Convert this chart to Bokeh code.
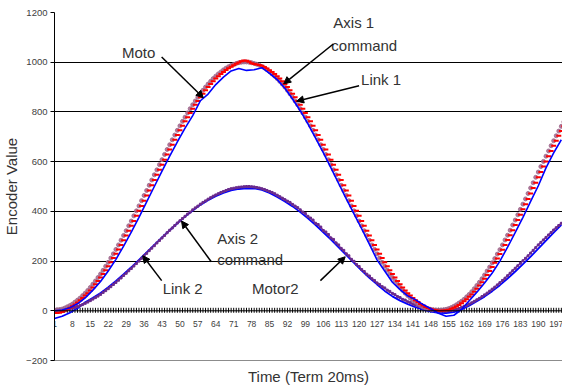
import math
from bokeh.plotting import figure
from bokeh.models import FixedTicker, Span, Label, Arrow, NormalHead, Range1d
from bokeh.embed import file_html
from bokeh.resources import INLINE
from bokeh.core.properties import value

# ---------------- data ----------------
categories = list(range(1, 201))

tick_positions = [1, 8, 15, 22, 29, 36, 43, 50, 57, 64, 71, 78, 85, 92, 99,
                  106, 113, 120, 127, 134, 141, 148, 155, 162, 169, 176, 183, 190, 197]
tick_labels = [str(t) for t in tick_positions]
y_ticks = [-200, 0, 200, 400, 600, 800, 1000, 1200]
grid_values = [200, 400, 600, 800, 1000]

axis1_command = [
    -8, -9, -8, -5, 0, 6, 12, 18, 25, 33,
    42, 51, 61, 71, 82, 94, 107, 120, 134, 148,
    163, 179, 195, 212, 229, 247, 265, 284, 303, 322,
    342, 361, 382, 402, 422, 443, 464, 484, 505, 526,
    547, 567, 588, 608, 629, 649, 668, 688, 707, 726,
    744, 762, 779, 796, 813, 829, 844, 859, 873, 887,
    900, 912, 923, 934, 944, 953, 961, 969, 976, 982,
    988, 994, 999, 1004, 1007, 1006, 1002, 996, 993, 991,
    989, 986, 981, 975, 968, 961, 953, 944, 934, 923,
    912, 900, 887, 873, 859, 844, 829, 813, 796, 779,
    762, 744, 726, 707, 688, 668, 649, 629, 608, 588,
    567, 547, 526, 505, 484, 464, 443, 422, 402, 382,
    361, 342, 322, 303, 284, 265, 247, 229, 212, 195,
    179, 163, 148, 134, 120, 107, 94, 82, 71, 61,
    51, 42, 35, 27, 21, 15, 11, 7, 4, 2,
    0, 0, 1, 2, 4, 8, 12, 17, 23, 30,
    38, 46, 56, 66, 77, 89, 102, 115, 129, 144,
    160, 176, 193, 210, 228, 246, 265, 285, 304, 324,
    345, 365, 386, 408, 429, 450, 472, 494, 515, 537,
    558, 580, 601, 622, 643, 664, 684, 704, 723, 742,
]

moto = [
    3, 4, 5, 7, 11, 16, 21, 27, 35, 43,
    51, 61, 71, 82, 94, 107, 120, 134, 148, 163,
    179, 195, 212, 229, 247, 265, 284, 303, 322, 342,
    361, 382, 402, 422, 443, 464, 484, 505, 526, 547,
    567, 588, 608, 629, 649, 668, 688, 707, 726, 744,
    762, 779, 796, 813, 829, 844, 859, 873, 887, 900,
    912, 923, 934, 944, 953, 961, 969, 976, 982, 987,
    991, 995, 998, 1000, 1001, 1001, 1000, 998, 995, 992,
    988, 983, 977, 970, 962, 953, 944, 934, 923, 912,
    900, 887, 873, 859, 844, 829, 813, 796, 779, 762,
    744, 726, 707, 688, 668, 649, 629, 608, 588, 567,
    547, 526, 505, 484, 464, 443, 422, 402, 382, 361,
    342, 322, 303, 284, 265, 247, 229, 212, 195, 179,
    163, 148, 134, 120, 107, 94, 82, 71, 61, 51,
    42, 35, 27, 21, 15, 11, 8, 6, 4, 3,
    3, 3, 4, 6, 9, 13, 18, 24, 31, 38,
    46, 56, 66, 77, 89, 102, 115, 129, 144, 160,
    176, 193, 210, 228, 246, 265, 285, 304, 324, 345,
    365, 386, 408, 429, 450, 472, 494, 515, 537, 558,
    580, 601, 622, 643, 664, 684, 704, 723, 742, 760,
]

axis2_command = [
    0, 0, 1, 2, 3, 5, 8, 11, 14, 17,
    21, 26, 31, 36, 41, 47, 53, 60, 67, 74,
    82, 90, 98, 106, 115, 124, 133, 142, 151, 161,
    171, 181, 191, 201, 211, 221, 232, 242, 253, 263,
    273, 284, 294, 304, 314, 324, 334, 344, 353, 363,
    372, 381, 390, 398, 406, 414, 422, 430, 437, 443,
    450, 456, 462, 467, 472, 477, 481, 485, 488, 491,
    492, 494, 496, 498, 499, 500, 500, 500, 499, 498,
    495, 492, 489, 485, 481, 476, 471, 466, 460, 455,
    449, 443, 437, 430, 422, 414, 406, 398, 390, 381,
    372, 364, 353, 345, 336, 324, 315, 306, 294, 285,
    274, 263, 252, 241, 230, 219, 208, 197, 187, 177,
    167, 157, 148, 139, 130, 121, 113, 105, 98, 91,
    84, 77, 70, 64, 58, 52, 47, 42, 37, 32,
    27, 23, 19, 15, 12, 9, 6, 4, 2, 0,
    -2, -3, -3, -3, -2, 0, 3, 6, 10, 14,
    19, 23, 28, 33, 39, 45, 51, 58, 65, 72,
    80, 88, 96, 105, 114, 123, 132, 142, 152, 162,
    172, 182, 192, 202, 212, 222, 233, 244, 255, 266,
    276, 286, 296, 306, 316, 326, 335, 344, 353, 362,
]

motor2 = [
    2, 2, 3, 3, 4, 6, 8, 10, 13, 17,
    21, 25, 30, 35, 41, 47, 53, 59, 66, 74,
    81, 89, 97, 106, 114, 123, 132, 142, 151, 161,
    170, 180, 190, 200, 211, 221, 231, 242, 252, 262,
    273, 283, 293, 303, 314, 324, 333, 343, 353, 362,
    371, 380, 389, 397, 406, 414, 421, 429, 436, 442,
    449, 455, 461, 466, 471, 476, 480, 484, 488, 491,
    493, 495, 497, 498, 499, 500, 500, 499, 498, 496,
    494, 491, 488, 484, 480, 476, 471, 465, 459, 453,
    447, 441, 436, 428, 421, 415, 406, 397, 391, 380,
    373, 365, 352, 347, 337, 323, 317, 307, 293, 287,
    273, 265, 251, 243, 229, 221, 207, 199, 186, 178,
    166, 158, 147, 140, 129, 122, 112, 106, 97, 92,
    83, 78, 70, 65, 57, 53, 46, 43, 36, 33,
    27, 24, 19, 16, 12, 10, 7, 5, 3, 2,
    0, -1, -1, -1, 0, 1, 3, 6, 9, 13,
    18, 22, 27, 32, 38, 44, 50, 57, 64, 71,
    79, 87, 95, 104, 113, 122, 131, 141, 151, 161,
    171, 181, 191, 201, 211, 221, 232, 243, 254, 265,
    275, 285, 295, 305, 315, 325, 334, 343, 352, 361,
]

link_steps = [
    1, 4, 7, 10, 13, 16, 19, 22, 25, 28,
    31, 34, 37, 40, 43, 46, 49, 52, 55, 58,
    61, 64, 67, 70, 73, 76, 79, 82, 85, 88,
    91, 94, 97, 100, 103, 106, 109, 112, 115, 118,
    121, 124, 127, 130, 133, 136, 139, 142, 145, 148,
    151, 154, 157, 160, 163, 166, 169, 172, 175, 178,
    181, 184, 187, 190, 193, 196, 199,
]

link1 = [
    0, 3, 12, 28, 52, 83, 118, 160, 207, 260,
    316, 376, 438, 500, 562, 622, 680, 735, 785, 845,
    872, 910, 940, 965, 975, 967, 970, 978, 955, 930,
    895, 852, 805, 752, 695, 636, 575, 512, 450, 390,
    330, 268, 205, 160, 115, 85, 60, 45, 25, 8,
    -10, -22, -18, 5, 40, 75, 112, 152, 200, 256,
    315, 376, 440, 503, 575, 635, 688,
]

link2 = [
    -31, -22, -8, 10, 34, 52, 72, 95, 120, 147,
    175, 205, 235, 265, 295, 324, 352, 379, 403, 426,
    445, 461, 474, 484, 490, 493, 492, 486, 474, 458,
    440, 420, 397, 372, 345, 316, 286, 255, 224, 193,
    162, 133, 106, 80, 58, 41, 27, 15, 5, -3,
    -8, -9, -5, 5, 20, 38, 57, 79, 103, 130,
    158, 188, 218, 250, 282, 314, 346,
]

# ---------------- layout helpers (pixel -> data) ----------------
PX_PER_STEP = 2.58
FRAME_LEFT = 50
ZERO_Y = 312.3


def dx(px):
    return 1 + (px - FRAME_LEFT) / PX_PER_STEP


def dy(py):
    return (ZERO_Y - py) * 4


FONT = "Liberation Sans"
TXT = "#333333"

p = figure(width=562, height=387,
           x_range=Range1d(1, dx(562)), y_range=Range1d(-200, 1200),
           output_backend="svg", toolbar_location=None,
           min_border_left=50, min_border_right=0,
           min_border_top=12, min_border_bottom=25)
p.outline_line_color = None
p.background_fill_color = "white"

# grid
p.xgrid.visible = False
p.ygrid.ticker = FixedTicker(ticks=grid_values)
p.ygrid.grid_line_color = "black"
p.ygrid.grid_line_width = 1

# y axis
p.yaxis.ticker = FixedTicker(ticks=y_ticks)
p.yaxis.major_tick_out = 4
p.yaxis.major_tick_in = 0
p.yaxis.minor_tick_out = 0
p.yaxis.minor_tick_in = 0
p.yaxis.axis_line_color = "black"
p.yaxis.major_tick_line_color = "black"
p.yaxis.major_label_text_font = FONT
p.yaxis.major_label_text_font_size = "9.5px"
p.yaxis.major_label_text_color = "#404040"
p.yaxis.major_label_standoff = 3
p.yaxis.axis_label = "Encoder Value"
p.yaxis.axis_label_text_font = FONT
p.yaxis.axis_label_text_font_size = "15px"
p.yaxis.axis_label_text_font_style = "normal"
p.yaxis.axis_label_text_color = TXT
p.yaxis.axis_label_standoff = 3

# x axis (bottom border line + title)
p.xaxis.ticker = FixedTicker(ticks=[])
p.xaxis.major_tick_out = 0
p.xaxis.major_tick_in = 0
p.xaxis.minor_tick_out = 0
p.xaxis.minor_tick_in = 0
p.xaxis.axis_line_color = "#8c8c8c"
p.xaxis.major_label_text_font_size = "0px"
p.xaxis.major_label_standoff = 0
p.xaxis.axis_label = "Time (Term 20ms)"
p.xaxis.axis_label_text_font = FONT
p.xaxis.axis_label_text_font_size = "15px"
p.xaxis.axis_label_text_font_style = "normal"
p.xaxis.axis_label_text_color = TXT
p.xaxis.axis_label_standoff = 7

# category axis at y = 0
p.add_layout(Span(location=0, dimension="width", line_color="black", line_width=1))
p.segment(x0=categories, y0=-8, x1=categories, y1=12, line_color="black", line_width=1)
p.text(x=tick_positions, y=-55, text=tick_labels, text_align="center",
       text_baseline="middle", text_font=value(FONT), text_font_size="8.5px",
       text_color="#404040")

# series
p.line(link_steps, link2, line_color="#0000FF", line_width=1.8)
p.line(categories, axis2_command, line_color="#7A2A96", line_width=1.2)
p.scatter(categories, motor2, marker="square", size=2,
          fill_color="#6A2B8C", line_color="#6A2B8C")

p.scatter(categories, moto, marker="circle", size=4,
          fill_color="#A0668C", line_color="#A0668C", alpha=0.85)
p.scatter(categories, axis1_command, marker="dash", size=5,
          line_color="#FF0000", line_width=2)
p.line(link_steps, link1, line_color="#0000FF", line_width=1.6)

# annotations
labels = [
    ("Moto", 118, 52.5),
    ("Axis 1", 331, 22),
    ("command", 329, 45),
    ("Link 1", 359, 80),
    ("Axis 2", 214, 240),
    ("command", 214, 261),
    ("Link 2", 159, 290),
    ("Motor2", 249, 290),
]
for t, px, py in labels:
    p.add_layout(Label(x=dx(px), y=dy(py), text=t, text_font=FONT,
                       text_font_size="15px", text_color=TXT,
                       text_baseline="middle", text_align="left"))

arrows = [
    (158, 57, 200, 98),
    (331, 44, 281, 84),
    (357, 86, 294, 101.5),
    (208, 263, 178, 222),
    (158, 282, 139, 257),
    (318, 282, 343, 258),
]
for x0, y0, x1, y1 in arrows:
    p.add_layout(Arrow(end=NormalHead(size=7, fill_color="black", line_color="black"),
                       x_start=dx(x0), y_start=dy(y0), x_end=dx(x1), y_end=dy(y1),
                       line_color="black", line_width=1.5))

open("out.html", "w").write(file_html(p, INLINE))
